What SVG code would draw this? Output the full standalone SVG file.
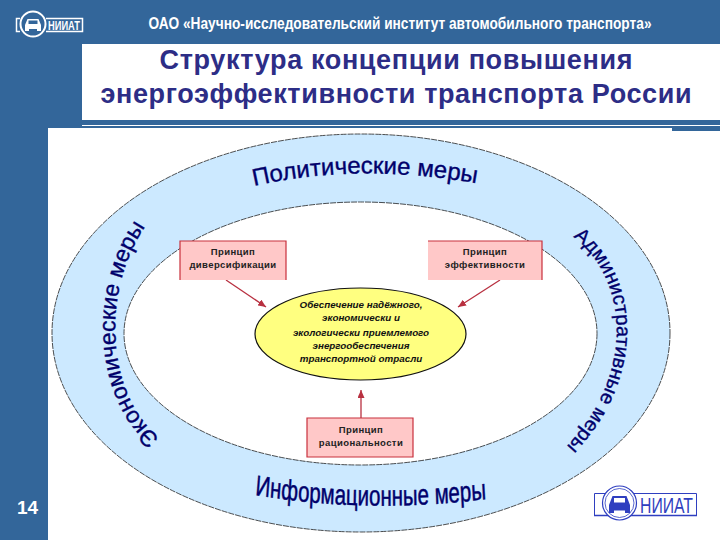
<svg xmlns="http://www.w3.org/2000/svg" width="720" height="540" viewBox="0 0 720 540">
<style>
.sans{font-family:"Liberation Sans",Arial,sans-serif}
.title{font-size:27px;font-weight:bold;fill:#2d2d86;text-anchor:middle}
.ring{fill:#00006b;stroke:#00006b;stroke-width:0.350}
.box{fill:#ffc8c8}
.edge{fill:none;stroke:#c8303c;stroke-width:1.200}
.bl{font-size:9.500px;font-weight:bold;fill:#222;text-anchor:middle;letter-spacing:0.400px}
.el{font-size:9.800px;font-weight:bold;font-style:italic;fill:#111;text-anchor:middle}
.arr{stroke:#b83040;stroke-width:1.300;fill:none;marker-end:url(#a)}
</style>
<defs>
<marker id="a" markerUnits="userSpaceOnUse" markerWidth="9" markerHeight="7" refX="8" refY="3.500" orient="auto"><path d="M0 0L8 3.500L0 7Z" fill="#b83040"/></marker>
<path id="pTop" d="M254 186Q365 161 490 186"/>
<path id="pLeft" d="M160 438C105 395 100 285 149 222"/>
<path id="pRight" d="M573 237C625 275 640 370 565 448"/>
<path id="pBot" d="M255 503.600Q370 517.600 495 505.700"/>
</defs>
<rect width="720" height="540" fill="#fff"/>
<g id="frame" fill="#33669a">
<rect width="720" height="44"/>
<rect y="44" width="48" height="496"/>
<rect x="48" y="44" width="34" height="84"/>
<rect x="82" y="120" width="638" height="5"/>
<rect x="82" y="126" width="638" height="2"/>
<rect x="672" y="128" width="48" height="3"/>
</g>
<g id="header">
<text class="sans" x="400" y="29" font-size="16.500" font-weight="bold" fill="#fff" text-anchor="middle" textLength="503" lengthAdjust="spacingAndGlyphs">ОАО «Научно-исследовательский институт автомобильного транспорта»</text>
<text class="sans title" x="396" y="69" textLength="473">Структура концепции повышения</text>
<text class="sans title" x="396" y="103" textLength="591">энергоэффективности транспорта России</text>
</g>
<g id="logo-top" fill="none" stroke="#fff">
<path d="M46 18.500H82.500V31.500H46M20 18.500H16.500V31.500H20" stroke-width="1.500"/>
<circle cx="33" cy="24" r="12.500" fill="#33669a" stroke-width="2"/>
<path d="M25 25L27.500 19H38.500L41 25V31H37V29H29V31H25Z" fill="#fff" stroke="none"/>
<rect x="28.500" y="20.500" width="9" height="3.500" fill="#33669a" stroke="none"/>
<text class="sans" x="48" y="29.500" font-size="13" font-weight="bold" fill="#fff" stroke="none" textLength="32" lengthAdjust="spacingAndGlyphs">НИИАТ</text>
</g>
<g id="page-number"><text class="sans" x="27.500" y="514" font-size="19" font-weight="bold" fill="#fff" text-anchor="middle">14</text></g>
<g id="outer-ring">
<ellipse cx="361" cy="333" rx="309" ry="199" fill="#cce9ff" stroke="#222" stroke-width="0.800" stroke-dasharray="6 1"/>
<ellipse cx="360.500" cy="333.500" rx="236.500" ry="131.500" fill="#fff" stroke="#222" stroke-width="0.800" stroke-dasharray="6 1"/>
</g>
<g id="ring-labels">
<text class="sans ring" font-size="24"><textPath href="#pTop">Политические меры</textPath></text>
<text class="sans ring" font-size="23"><textPath href="#pLeft">Экономические меры</textPath></text>
<text class="sans ring" font-size="20"><textPath href="#pRight">Административные меры</textPath></text>
<text class="sans ring" font-size="20.500" transform="translate(0,-210) scale(1,1.400)"><textPath href="#pBot">Информационные меры</textPath></text>
</g>
<g id="connectors">
<path class="arr" d="M226 280L266 307"/>
<path class="arr" d="M500 280L458 307"/>
<path class="arr" d="M361 418V390"/>
</g>
<g id="center">
<ellipse cx="360.500" cy="334" rx="105.500" ry="46" fill="#ffff80" stroke="#111" stroke-width="1.200"/>
<text class="sans el" x="361" y="308">Обеспечение надёжного,</text>
<text class="sans el" x="361" y="321">экономически и</text>
<text class="sans el" x="361" y="336">экологически приемлемого</text>
<text class="sans el" x="361" y="349">энергообеспечения</text>
<text class="sans el" x="361" y="362">транспортной отрасли</text>
</g>
<g id="p1"><rect class="box" x="180" y="241" width="106" height="39"/><path class="edge" d="M180 280V241H286V280"/>
<text class="sans bl" x="233" y="255">Принцип</text><text class="sans bl" x="233" y="268">диверсификации</text></g>
<g id="p2"><rect class="box" x="428" y="241" width="114" height="39"/><path class="edge" d="M428 241H542V280"/>
<text class="sans bl" x="485" y="255">Принцип</text><text class="sans bl" x="485" y="268">эффективности</text></g>
<g id="p3"><rect class="box" x="307" y="418" width="106" height="39"/><path class="edge" d="M307 418H413V457H307Z"/>
<text class="sans bl" x="361" y="433">Принцип</text><text class="sans bl" x="361" y="446">рациональности</text></g>
<g id="logo-bottom" fill="none" stroke="#2f3fc0">
<path d="M594.500 493.500H696.500M594.500 493.500V515.500" stroke-width="1"/>
<path d="M594 515.500H697" stroke-width="1.600"/>
<path d="M696.500 493.500V515.500" stroke-width="1"/>
<circle cx="619.500" cy="503" r="17" fill="#fff" stroke-width="1.200"/>
<circle cx="619.500" cy="503" r="14.500" stroke-width="0.800"/>
<path d="M609 505L612.500 496H626.500L630 505V513H625V510.500H614V513H609Z" fill="#2f3fc0" stroke="none"/>
<rect x="614" y="498" width="11" height="4.500" fill="#fff" stroke="none"/>
<text class="sans" x="640" y="513" font-size="22" fill="#2f3fc0" stroke="none" textLength="53" lengthAdjust="spacingAndGlyphs">НИИАТ</text>
</g>
</svg>
